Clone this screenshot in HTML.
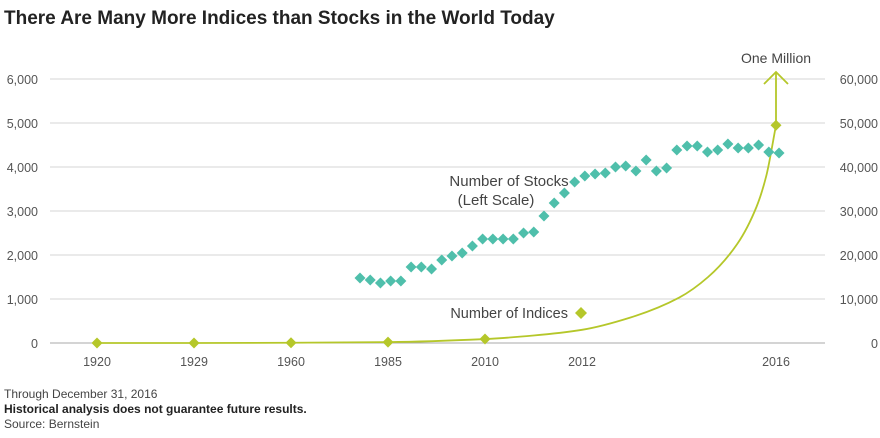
<!DOCTYPE html>
<html><head><meta charset="utf-8"><style>
body{margin:0;background:#fff;width:880px;height:433px;overflow:hidden;font-family:"Liberation Sans",sans-serif}
svg text{font-family:"Liberation Sans",sans-serif}
</style></head><body>
<svg width="880" height="433">
<text x="4" y="24" font-size="19" font-weight="bold" fill="#222">There Are Many More Indices than Stocks in the World Today</text>
<g id="grid"></g><g id="curve"></g><g id="marks"></g>
<text x="509" y="186" font-size="15" fill="#444" text-anchor="middle">Number of Stocks</text>
<text x="496" y="205" font-size="15" fill="#444" text-anchor="middle">(Left Scale)</text>
<text x="568" y="318" font-size="14.5" fill="#444" text-anchor="end">Number of Indices</text>
<path d="M581 307 L587 313 L581 319 L575 313Z" fill="#b5c72a"/>
<text x="776" y="63" font-size="14" fill="#444" text-anchor="middle">One Million</text>
<text x="4" y="398" font-size="12" fill="#444">Through December 31, 2016</text>
<text x="4" y="413" font-size="12" font-weight="bold" fill="#222">Historical analysis does not guarantee future results.</text>
<text x="4" y="428" font-size="12" fill="#444">Source: Bernstein</text>
</svg>
<script>
const leftTicks=[0,1000,2000,3000,4000,5000,6000];
const rightTicks=[0,10000,20000,30000,40000,50000,60000];
const catLabels=['1920','1929','1960','1985','2010','2012','','2016'];
const indexCats=[0,1,2,3,4,7];
const indexVals=[0,0,50,200,900,49500];
const curveCats=[0,1,2,3,4,4.5,5,5.5,6,6.3,6.6,6.8,6.9,7];
const curveVals=[0,0,50,200,900,1700,3000,5800,10300,15000,22500,31000,38000,49500];
const stockYears=[];for(let y=1975;y<=2016;y++)stockYears.push(y);
const stockVals=[1477,1432,1364,1409,1409,1727,1727,1682,1886,1977,2045,2205,2364,2364,2364,2364,2500,2523,2886,3182,3409,3659,3795,3841,3864,4000,4023,3909,4159,3909,3977,4386,4477,4477,4341,4386,4523,4432,4432,4500,4341,4318];
const NS='http://www.w3.org/2000/svg';
const yL=v=>343-v*0.044, yR=v=>343-v*0.0044, xC=i=>97+97*i, xS=yr=>360+(yr-1975)*10.22;
function mk(t,a,p){const e=document.createElementNS(NS,t);for(const k in a)e.setAttribute(k,a[k]);p.appendChild(e);return e;}
const grid=document.getElementById('grid'),marks=document.getElementById('marks'),cg=document.getElementById('curve');
leftTicks.forEach((v,i)=>{
 const l=mk('line',{x1:50,x2:825,y1:yL(v),y2:yL(v),stroke:v===0?'#aaa':'#d6d6d6','stroke-width':1},grid);
 
 
 const t=mk('text',{x:38,y:yL(v)+5,'font-size':12.5,fill:'#555','text-anchor':'end'},grid);t.textContent=v.toLocaleString('en-US');
 
 
 const r=rightTicks[i];
 const t2=mk('text',{x:878,y:yR(r)+5,'font-size':12.5,fill:'#555','text-anchor':'end'},grid);t2.textContent=r.toLocaleString('en-US');
 
 
});
catLabels.forEach((c,i)=>{if(!c)return;
 const t=mk('text',{x:xC(i),y:366,'font-size':12.5,fill:'#555','text-anchor':'middle'},grid);t.textContent=c;
 
 
});
const pts=curveCats.map((c,i)=>[xC(c),yR(curveVals[i])]);
const n=pts.length,dx=[],sl=[],m=[];
for(let i=0;i<n-1;i++){dx[i]=pts[i+1][0]-pts[i][0];sl[i]=(pts[i+1][1]-pts[i][1])/dx[i];}
m[0]=sl[0];m[n-1]=sl[n-2];
for(let i=1;i<n-1;i++){const a=sl[i-1],b=sl[i];m[i]=(a*b<=0)?0:3*(dx[i-1]+dx[i])/((2*dx[i]+dx[i-1])/a+(dx[i]+2*dx[i-1])/b);}
let d='M'+pts[0][0]+' '+pts[0][1];
for(let i=0;i<n-1;i++){const h=dx[i]/3;
 d+=` C${pts[i][0]+h} ${pts[i][1]+m[i]*h} ${pts[i+1][0]-h} ${pts[i+1][1]-m[i+1]*h} ${pts[i+1][0]} ${pts[i+1][1]}`;}
const last=pts[n-1];
d+=` L${last[0]} 72`;
const cp=mk('path',{d:d,fill:'none',stroke:'#b5c72a','stroke-width':1.8},cg);


const ar=mk('path',{d:`M${last[0]-12} 84 L${last[0]} 72 L${last[0]+12} 84`,fill:'none',stroke:'#b5c72a','stroke-width':1.8},cg);


function dia(x,y,s,c,nm){const e=mk('path',{d:`M${x} ${y-s} L${x+s} ${y} L${x} ${y+s} L${x-s} ${y}Z`,fill:c},marks);
 
 }
stockYears.forEach((yr,i)=>dia(xS(yr),yL(stockVals[i]),5.5,'#4fbfab','stock-point'));
indexCats.forEach((c,i)=>dia(xC(c),yR(indexVals[i]),5.5,'#b5c72a','index-point'));
</script>
</body></html>
